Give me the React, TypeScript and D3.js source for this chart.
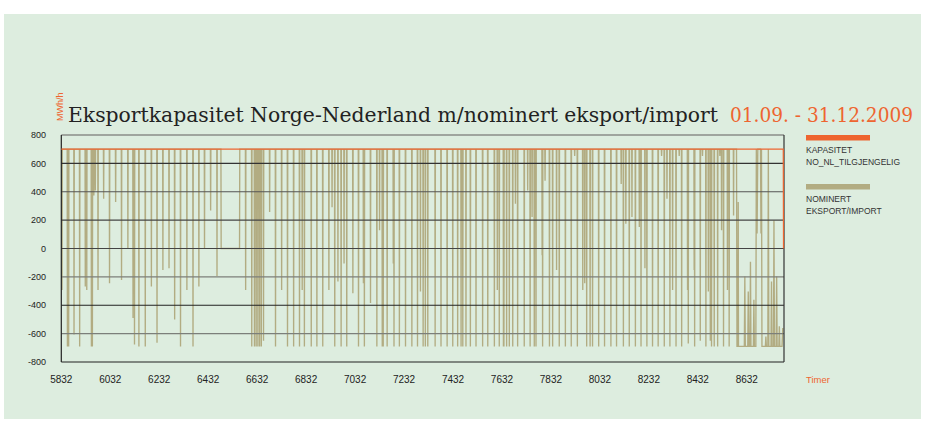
import { useEffect } from 'react';
import * as d3 from 'd3';

const W = 925;
const H = 421;

const TITLE = 'Eksportkapasitet Norge-Nederland m/nominert eksport/import';
const PERIOD = '01.09. - 31.12.2009';
const UNIT = 'MWh/h';
const X_LABEL = 'Timer';

const yTicks = [800, 600, 400, 200, 0, -200, -400, -600, -800];
const xTicks = [5832, 6032, 6232, 6432, 6632, 6832, 7032, 7232, 7432, 7632, 7832, 8032, 8232, 8432, 8632];

// kapasitet NO_NL, MW: [time, value]
const kapasitet: [number, number][] = [
  [5832, 700], [8781, 700], [8782, 0],
];

// nominert flyt: korte fall fra 700 (eksport) ned til [time, laveste verdi]
const nominertDips: [number, number][] = [
  [5835, -292], [5857, -690], [5862, -690], [5884, -607], [5907, -690], [5930, -268], [5936, -292],
  [5955, -690], [5959, -690], [5965, 373], [5971, 408], [5982, -292], [6005, 350], [6029, -245],
  [6054, 327], [6078, -222], [6104, 0], [6125, -490], [6131, -677], [6149, -690], [6175, -690],
  [6200, -268], [6223, -665], [6247, -152], [6272, -140], [6295, -500], [6319, -690], [6345, -292],
  [6370, -690], [6394, -268], [6417, 0], [6442, 268], [6468, -194],
  [6585, -292], [6610, -690], [6621, -690], [6628, -690], [6635, -690], [6642, -690], [6649, -690],
  [6658, -650], [6683, 257], [6707, -690], [6732, -292], [6756, -690], [6781, -690], [6805, -690],
  [6816, -292], [6825, -690], [6853, -690], [6876, -690], [6900, -690], [6925, -292], [6938, 290],
  [6949, -690], [6962, -233], [6975, -690], [6987, -105], [6998, -690],
  [7023, -315], [7046, -690], [7066, -245], [7070, -690], [7095, -385], [7121, -690], [7132, 128],
  [7143, -690], [7147, -690], [7163, -690], [7188, -105], [7191, -690], [7213, -690], [7238, -690],
  [7264, -690], [7287, -690], [7299, -303], [7310, -690], [7319, -690], [7329, -690], [7359, -690],
  [7383, -690], [7408, -690], [7431, -690], [7451, -690], [7465, -690], [7472, -690], [7485, -690],
  [7503, -690], [7526, -690], [7553, -690], [7574, -690], [7601, -690],
  [7613, -292], [7621, -690], [7638, -690], [7640, -690], [7651, -690], [7662, -690], [7676, -690],
  [7687, 315], [7696, -690], [7723, -690], [7737, 408], [7747, -690], [7755, 222], [7764, -690],
  [7771, -690], [7796, -47], [7798, -690], [7808, 478], [7826, -690], [7839, -690], [7855, -152],
  [7866, -690], [7891, -690], [7915, -690], [7929, 653], [7940, -690], [7962, -292], [7970, -245],
  [7978, -690], [7992, -690], [8002, -690], [8027, -690], [8051, -690], [8077, -690], [8100, -690],
  [8119, 455], [8128, -690], [8138, 175], [8152, -690], [8163, 222], [8177, -690], [8193, 152],
  [8200, -690], [8216, -140], [8224, -690], [8247, -690], [8270, -690], [8284, 653], [8295, -690],
  [8306, 350], [8318, -690], [8329, -292], [8343, -690], [8356, 653], [8366, -690], [8390, -292],
  [8393, -670], [8417, -152], [8419, -690], [8442, -650], [8451, 653], [8465, -690], [8475, -303],
  [8483, -650], [8488, -690], [8499, -690], [8513, -690], [8522, 653], [8529, 128], [8537, -690],
  [8553, -292], [8560, -690], [8578, 233],
];

// perioder der kurven ikke ligger på 700: [time, verdi]
const nominertBreaks: [number, number][] = [
  [6484, 700], [6485, 0], [6560, 0], [6561, 700],
  [8590, 700], [8592, -690], [8596, -690], [8597, 327], [8598, -690], [8622, -690], [8624, -198],
  [8626, -690], [8636, -690], [8638, -303], [8640, -690], [8645, -690], [8647, -93], [8649, -690],
  [8659, -690], [8661, -362], [8663, -690], [8669, -690], [8671, 700], [8674, 105], [8677, 700],
  [8688, 700], [8690, 105], [8692, 700], [8694, -690], [8708, -690], [8710, -620], [8712, -690],
  [8718, -690], [8720, 700], [8722, -690], [8731, -690], [8733, -233], [8735, -690], [8741, -690],
  [8743, 198], [8745, -690], [8752, -690], [8754, -198], [8756, -690], [8763, -690], [8765, -548],
  [8767, -690], [8776, -690], [8779, -560],
];

const gridColor: Record<number, string> = {
  800: '#8a8d88', 600: '#333', 400: '#555', 200: '#444', 0: '#444',
  '-200': '#7c7f7a', '-400': '#222', '-600': '#7c7f7a', '-800': '#222',
};

export default function App() {
  useEffect(() => {
    document.body.style.margin = '0';
  }, []);

  const m = { left: 61.3, right: 784, top: 135, bottom: 362 };
  const x = d3.scaleLinear().domain([5832, 8784]).range([m.left, m.right]);
  const y = d3.scaleLinear().domain([-800, 800]).range([m.bottom, m.top]);

  const pts: [number, number][] = [[5832, 700]];
  nominertDips.forEach(([h, v]) => {
    pts.push([h - 1, 700], [h, v], [h + 1, 700]);
  });
  nominertBreaks.forEach(p => pts.push(p));
  pts.sort((a, b) => a[0] - b[0]);

  const line = d3.line<[number, number]>().x(d => x(d[0])).y(d => y(d[1]));

  const sans = 'Liberation Sans, Arial, sans-serif';
  const serif = 'DejaVu Serif, serif';
  const orange = '#ee6530';
  const tan = '#b2ac82';

  return (
    <svg width={W} height={H} style={{ display: 'block', background: '#fff' }}>
      <rect x={4} y={14} width={917} height={405} fill="#ddeddf" />

      <text x={68} y={122} fontFamily={serif} fontSize={20} fill="#222"
        textLength={650} lengthAdjust="spacingAndGlyphs">{TITLE}</text>
      <text x={730} y={122} fontFamily={serif} fontSize={20} fill={orange}
        textLength={183} lengthAdjust="spacingAndGlyphs">{PERIOD}</text>
      <text transform="translate(63,121) rotate(-90)" fontFamily={sans} fontSize={9} fill={orange}>{UNIT}</text>

      <path d={line(pts) ?? ''} fill="none" stroke={tan} strokeWidth={1.35} />

      {yTicks.map(t => (
        <g key={t}>
          <line x1={m.left} x2={m.right} y1={y(t)} y2={y(t)}
            stroke={gridColor[t]} strokeWidth={t === 800 ? 1.5 : 1.1} />
          <text x={46} y={y(t)} dy="0.35em" textAnchor="end" fontFamily={sans} fontSize={9} fill="#222">{t}</text>
        </g>
      ))}
      <line x1={m.left} x2={m.left} y1={m.top} y2={m.bottom} stroke="#222" strokeWidth={1.2} />
      <line x1={m.right} x2={m.right} y1={m.top} y2={m.bottom} stroke="#333" strokeWidth={1.2} />

      <path d={line(kapasitet) ?? ''} fill="none" stroke={orange} strokeWidth={1.2} />

      {xTicks.map(t => (
        <text key={t} x={x(t)} y={383} textAnchor="middle" fontFamily={sans} fontSize={10} fill="#222">{t}</text>
      ))}
      <text x={806} y={383} fontFamily={sans} fontSize={9.5} fill={orange}>{X_LABEL}</text>

      <rect x={806} y={135} width={64} height={5.5} fill={orange} />
      <text x={806} y={153} fontFamily={sans} fontSize={8.5} fill="#333">KAPASITET</text>
      <text x={806} y={165} fontFamily={sans} fontSize={8.5} fill="#333">NO_NL_TILGJENGELIG</text>
      <rect x={806} y={184} width={64} height={5.5} fill={tan} />
      <text x={806} y={202} fontFamily={sans} fontSize={8.5} fill="#333">NOMINERT</text>
      <text x={806} y={214} fontFamily={sans} fontSize={8.5} fill="#333">EKSPORT/IMPORT</text>
    </svg>
  );
}
